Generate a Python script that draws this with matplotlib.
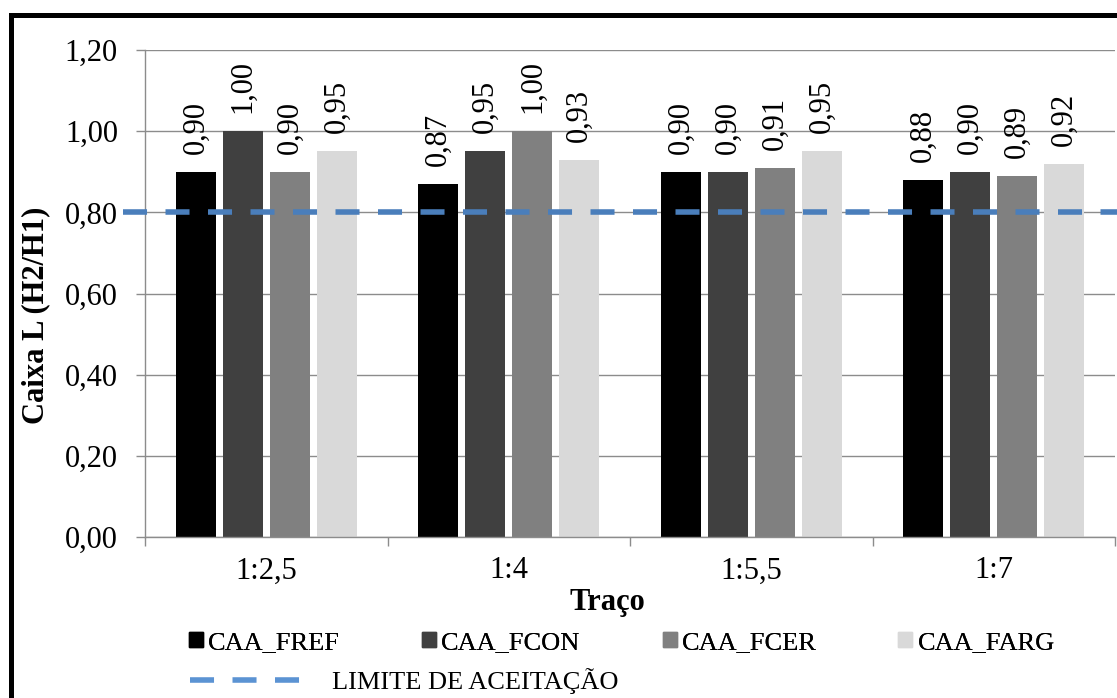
import numpy as np
import matplotlib.pyplot as plt
from matplotlib.patches import Rectangle, Patch
from matplotlib.lines import Line2D

plt.rcParams['font.family'] = ['Liberation Serif', 'DejaVu Serif']
plt.rcParams['lines.scale_dashes'] = False

# data
tracos = ['1:2,5', '1:4', '1:5,5', '1:7']
series = ['CAA_FREF', 'CAA_FCON', 'CAA_FCER', 'CAA_FARG']
fref = [0.90, 0.87, 0.90, 0.88]
fcon = [1.00, 0.95, 0.90, 0.90]
fcer = [0.90, 1.00, 0.91, 0.89]
farg = [0.95, 0.93, 0.95, 0.92]
limite = 0.80
limite_label = 'LIMITE DE ACEITAÇÃO'

colors = ['#000000', '#404040', '#808080', '#D9D9D9']
grid_col = '#8C8C8C'
line_col = '#4A7EBB'

W, H = 1117, 698
fig = plt.figure(figsize=(W / 100, H / 100), dpi=100)
ax = fig.add_axes([145 / W, 1 - 537 / H, 970 / W, 487 / H])

x = np.arange(len(tracos))
step = 0.1938
width = 0.165
bars = []
for i, vals in enumerate([fref, fcon, fcer, farg]):
    b = ax.bar(x + (i - 1.5) * step, vals, width, color=colors[i], zorder=2, label=series[i])
    ax.bar_label(b, labels=[f'{v:.2f}'.replace('.', ',') for v in vals],
                 rotation=90, padding=13, fontsize=22)
    bars.append(b)

# acceptance limit line
ax.axhline(limite, xmin=-0.0227, xmax=1.002, color=line_col, lw=4,
           dashes=(17.3, 13.3), clip_on=False, zorder=4)

ax.set_ylim(0, 1.2)
ax.set_xlim(-0.5, 3.5)
ax.set_yticks(np.arange(0, 1.21, 0.2))
ax.set_yticklabels([f'{v:.2f}'.replace('.', ',') for v in np.arange(0, 1.21, 0.2)], fontsize=22)
ax.set_xticks(np.arange(-0.5, 3.6, 1.0))
ax.set_xticklabels([])
ax.set_xticks(x, minor=True)
ax.set_xticklabels(tracos, minor=True, fontsize=22)
ax.tick_params(axis='y', length=6.5, width=1, color=grid_col, pad=13)
ax.tick_params(axis='x', which='major', length=6.5, width=1, color=grid_col)
ax.tick_params(axis='x', which='minor', length=0, pad=14)

ax.grid(axis='y', color=grid_col, lw=1.0)
ax.set_axisbelow(True)
for s in ['top', 'right']:
    ax.spines[s].set_visible(False)
for s in ['left', 'bottom']:
    ax.spines[s].set_color(grid_col)
    ax.spines[s].set_linewidth(1.0)

ax.set_ylabel('Caixa L (H2/H1)', fontsize=22, fontweight='bold')
ax.yaxis.set_label_coords(-0.098, 0.456)
ax.set_xlabel('Traço', fontsize=22, fontweight='bold')
ax.xaxis.set_label_coords(0.477, -0.105)

# legends
leg1 = fig.legend(handles=[Patch(color=c) for c in colors], labels=series, ncol=4,
                  loc='center left', bbox_to_anchor=(189 / W, 1 - 643 / H),
                  frameon=False, fontsize=19, borderpad=0, borderaxespad=0,
                  handlelength=0.53, handleheight=0.53, handletextpad=0.2,
                  columnspacing=3.1)
fig.legend(handles=[Line2D([], [], color='#5B93D3', lw=4, dashes=(17.3, 13.3))],
           labels=[limite_label], loc='center left',
           bbox_to_anchor=(190 / W, 1 - 681 / H), frameon=False, fontsize=19,
           borderpad=0, borderaxespad=0, handlelength=4.17, handletextpad=1.2)
fig.add_artist(leg1)

# outer frame
fig.patches.append(Rectangle((10.5 / W, -0.1), 1.2, 1.1 - 15 / H, transform=fig.transFigure,
                             fill=False, edgecolor='black', lw=3.6, clip_on=False))

fig.savefig('out.png', dpi=100)
